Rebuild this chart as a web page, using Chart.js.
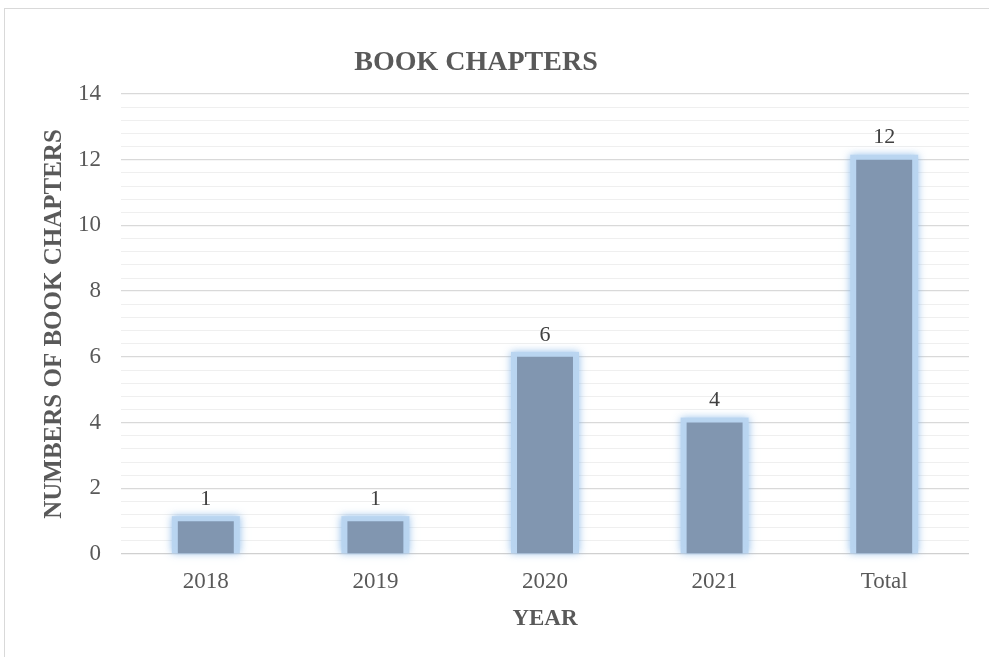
<!DOCTYPE html>
<html>
<head>
<meta charset="utf-8">
<script src="https://cdn.jsdelivr.net/npm/chart.js@4/dist/chart.umd.min.js"></script>
<style>
  html, body { margin: 0; padding: 0; background: #fff; }
  #wrap { position: relative; width: 989px; height: 657px; }
  #frame { position: absolute; left: 4px; top: 8px; width: 1000px; height: 700px; border: 1px solid #d9d9d9; box-sizing: border-box; }
  canvas { position: absolute; left: 0; top: 0; }
</style>
</head>
<body>
<div id="wrap">
  <div id="frame"></div>
  <canvas id="myChart" width="989" height="657"></canvas>
</div>
<script>
// data
const years = ['2018', '2019', '2020', '2021', 'Total'];
const chapters = [1, 1, 6, 4, 12];

const serif = "'Liberation Serif', 'Times New Roman', serif";

const isMajor = v => Math.abs(v / 2 - Math.round(v / 2)) < 1e-6;

// soft blue glow round each bar
const glow = {
  id: 'glow',
  beforeDatasetsDraw(chart) {
    const ctx = chart.ctx;
    ctx.save();
    chart.getDatasetMeta(0).data.forEach(bar => {
      const w = bar.width;
      ctx.shadowColor = 'rgba(130,180,230,0.9)';
      ctx.shadowBlur = 8;
      ctx.fillStyle = 'rgba(185,213,240,0.95)';
      ctx.fillRect(bar.x - w / 2 - 6, bar.y - 5, w + 12, bar.base - bar.y + 5);
    });
    ctx.restore();
  }
};

// value labels and the title
const labels = {
  id: 'labels',
  afterDatasetsDraw(chart) {
    const ctx = chart.ctx;
    ctx.save();
    ctx.font = '22px ' + serif;
    ctx.fillStyle = '#404040';
    ctx.textAlign = 'center';
    ctx.textBaseline = 'bottom';
    chart.getDatasetMeta(0).data.forEach((bar, i) => {
      ctx.fillText(chapters[i], bar.x, bar.y - 11);
    });
    ctx.font = 'bold 28px ' + serif;
    ctx.fillStyle = '#595959';
    ctx.textBaseline = 'middle';
    ctx.fillText('BOOK CHAPTERS', 476, 63);
    ctx.restore();
  }
};

const ctx = document.getElementById('myChart');
new Chart(ctx, {
  type: 'bar',
  data: {
    labels: years,
    datasets: [{
      label: 'Book chapters',
      data: chapters,
      backgroundColor: '#8196b0',
      borderWidth: 0,
      barPercentage: 0.33,
      categoryPercentage: 1
    }]
  },
  options: {
    responsive: false,
    animation: false,
    layout: { padding: { left: 0, right: 20, top: 94, bottom: 0 } },
    plugins: {
      legend: { display: false },
      tooltip: { enabled: false }
    },
    scales: {
      x: {
        afterFit: s => { s.height = 103; },
        grid: { display: false },
        border: { display: false },
        ticks: { font: { family: serif, size: 23 }, color: '#595959', padding: 6 },
        title: {
          display: true,
          text: 'YEAR',
          font: { family: serif, size: 23, weight: 'bold' },
          color: '#595959',
          padding: { top: 0, bottom: 24 }
        }
      },
      y: {
        min: 0,
        max: 14,
        afterFit: s => { s.width = 121; },
        ticks: {
          stepSize: 0.4,
          autoSkip: false,
          font: { family: serif, size: 23 },
          color: '#595959',
          padding: 20,
          callback: v => isMajor(v) ? Math.round(v) : ''
        },
        grid: {
          drawTicks: false,
          color: c => c.tick.value === 0 ? '#d0d0d0' : (isMajor(c.tick.value) ? '#d9d9d9' : '#efefef'),
          lineWidth: c => isMajor(c.tick.value) ? 1.3 : 1
        },
        border: { display: false },
        title: {
          display: true,
          text: 'NUMBERS OF BOOK CHAPTERS',
          font: { family: serif, size: 25, weight: 'bold' },
          color: '#595959',
          padding: { top: 40, bottom: 0 }
        }
      }
    }
  },
  plugins: [glow, labels]
});
</script>
</body>
</html>
